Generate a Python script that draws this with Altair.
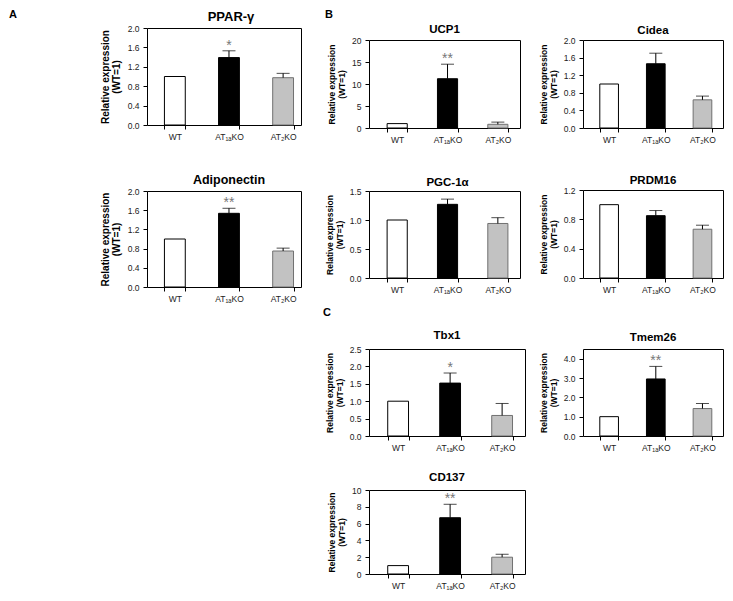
import altair as alt
import pandas as pd

groups = ["WT", "AT₁ₐKO", "AT₂KO"]

ppar_mean = [1.0, 1.39, 0.975]
ppar_err = [0.0, 0.14, 0.09]
ppar_sig = ["", "*", ""]

adipo_mean = [1.0, 1.535, 0.75]
adipo_err = [0.0, 0.105, 0.06]
adipo_sig = ["", "**", ""]

ucp1_mean = [1.0, 11.2, 0.84]
ucp1_err = [0.0, 3.3, 0.5]
ucp1_sig = ["", "**", ""]

cidea_mean = [1.0, 1.46, 0.64]
cidea_err = [0.0, 0.24, 0.085]
cidea_sig = ["", "", ""]

pgc_mean = [1.0, 1.27, 0.94]
pgc_err = [0.0, 0.09, 0.10]
pgc_sig = ["", "", ""]

prdm_mean = [1.0, 0.85, 0.665]
prdm_err = [0.0, 0.07, 0.055]
prdm_sig = ["", "", ""]

tbx_mean = [1.0, 1.52, 0.59]
tbx_err = [0.0, 0.29, 0.345]
tbx_sig = ["", "*", ""]

tmem_mean = [1.0, 2.95, 1.42]
tmem_err = [0.0, 0.65, 0.26]
tmem_sig = ["", "**", ""]

cd137_mean = [1.0, 6.7, 2.0]
cd137_err = [0.0, 1.6, 0.35]
cd137_sig = ["", "**", ""]

y_title = ["Relative expression", "(WT=1)"]

FONT = "Liberation Sans"


def label_layer(text, size, x, y, align):
    return alt.Chart(pd.DataFrame({"t": [text]})).mark_text(
        fontSize=size, fontWeight="bold", align=align, baseline="alphabetic",
        font=FONT, color="black").encode(text="t:N", x=alt.value(x), y=alt.value(y))


def panel(title, mean, err, sig, dmax, ticks, fmt, w, h, tsize, toff,
          big=False, tdx=0, letter=None, lx=0, ly=0):
    df = pd.DataFrame({"g": groups, "m": mean, "e": err, "s": sig})
    if big:
        xs = alt.Scale(domain=groups, paddingInner=0.615, paddingOuter=0.23, align=0.7)
        ats, alh, atp = 10, 11, 6
    else:
        xs = alt.Scale(domain=groups, paddingInner=0.6, paddingOuter=0.3, align=0.6)
        ats, alh, atp = 8.5, 10, 5
    ys = alt.Scale(domain=[0, dmax], nice=False, zero=True)
    x = alt.X("g:N", sort=groups, scale=xs,
              axis=alt.Axis(title=None, labelAngle=0, tickBand="extent", tickSize=4,
                            labelPadding=3, domain=False, labelOverlap=False))
    yax = alt.Axis(values=ticks, format=fmt, title=y_title, titleFontSize=ats,
                   titleLineHeight=alh, titlePadding=atp, tickSize=4,
                   labelPadding=4, domain=False, labelOverlap=False)
    base = alt.Chart(df)
    bars = base.mark_bar(strokeWidth=1).encode(
        x=x,
        y=alt.Y("m:Q", scale=ys, axis=yax),
        fill=alt.Fill("g:N", scale=alt.Scale(domain=groups, range=["white", "black", "#c2c2c2"]), legend=None),
        stroke=alt.Stroke("g:N", scale=alt.Scale(domain=groups, range=["black", "black", "#707070"]), legend=None),
    )
    eb = base.transform_filter("datum.e > 0").transform_calculate(top="datum.m + datum.e")
    rule = eb.mark_rule(color="black", strokeWidth=1).encode(
        x=x, y=alt.Y("m:Q", scale=ys, axis=yax), y2="top:Q")
    cap = eb.mark_tick(color="black", thickness=1, size=13).encode(
        x=x, y=alt.Y("top:Q", scale=ys, axis=yax))
    star = eb.transform_filter("datum.s != ''").mark_text(
        fontSize=14, color="#777", baseline="alphabetic", dy=-1, font=FONT).encode(
        x=x, y=alt.Y("top:Q", scale=ys, axis=yax), text="s:N")
    layers = [bars, rule, cap, star, label_layer(title, tsize, w / 2 + tdx, -toff, "center")]
    if letter:
        layers.append(label_layer(letter, 11, lx, ly, "left"))
    return alt.layer(*layers).properties(width=w, height=h)


def spacer(w, h):
    return alt.Chart(pd.DataFrame({"v": [0]})).mark_point(
        opacity=0, size=1, strokeWidth=0).encode(
        x=alt.value(w / 2), y=alt.value(h / 2)).properties(
        width=w, height=h, view=alt.ViewBackground(stroke="transparent"))


ppar = panel("PPAR-γ", ppar_mean, ppar_err, ppar_sig, 2.0, [0, 0.4, 0.8, 1.2, 1.6, 2.0], ".1f",
             154, 97, 13, 7, big=True, tdx=7, letter="A", lx=-138, ly=-10)
adipo = panel("Adiponectin", adipo_mean, adipo_err, adipo_sig, 2.0, [0, 0.4, 0.8, 1.2, 1.6, 2.0], ".1f",
              154, 96, 12.5, 7.5, big=True, tdx=5)

ucp1 = panel("UCP1", ucp1_mean, ucp1_err, ucp1_sig, 20, [0, 5, 10, 15, 20], "d",
             151, 88, 11.5, 7, letter="B", lx=-44, ly=-22)
pgc = panel("PGC-1α", pgc_mean, pgc_err, pgc_sig, 1.5, [0, 0.5, 1.0, 1.5], ".1f",
            151, 87, 11.5, 5, tdx=3)
tbx = panel("Tbx1", tbx_mean, tbx_err, tbx_sig, 2.5, [0, 0.5, 1.0, 1.5, 2.0, 2.5], ".1f",
            156, 87, 11.5, 10.5, letter="C", lx=-46, ly=-33)
cd137 = panel("CD137", cd137_mean, cd137_err, cd137_sig, 10, [0, 2, 4, 6, 8, 10], "d",
              156, 84, 11.5, 9)

cidea = panel("Cidea", cidea_mean, cidea_err, cidea_sig, 2.0, [0, 0.4, 0.8, 1.2, 1.6, 2.0], ".1f",
              140, 88, 11.5, 6)
prdm = panel("PRDM16", prdm_mean, prdm_err, prdm_sig, 1.2, [0, 0.4, 0.8, 1.2], ".1f",
             140, 88, 11.5, 6)
tmem = panel("Tmem26", tmem_mean, tmem_err, tmem_sig, 4.5, [0, 1, 2, 3, 4], ".1f",
             140, 87, 11.5, 7.6)

W1, W2, W3 = 174, 168, 140
col1 = alt.vconcat(spacer(W1, 19), ppar, spacer(W1, 66), adipo, spacing=0, bounds="flush")
col2 = alt.vconcat(spacer(W2, 31), ucp1, spacer(W2, 63), pgc, spacer(W2, 71), tbx,
                   spacer(W2, 54), cd137, spacing=0, bounds="flush")
col3 = alt.vconcat(spacer(W3, 31), cidea, spacer(W3, 62), prdm, spacer(W3, 71), tmem,
                   spacing=0, bounds="flush")

chart = alt.hconcat(col1, col2, col3, spacing=0).properties(padding=0).configure(
    font=FONT
).configure_view(
    stroke="black", strokeWidth=1
).configure_axis(
    labelFont=FONT, titleFont=FONT, labelFontSize=8.5, labelColor="#222",
    tickColor="black", tickWidth=1, grid=False, titleColor="black", titleFontWeight="bold"
)

chart.save("out.html", embed_options={"renderer": "svg", "actions": False})
